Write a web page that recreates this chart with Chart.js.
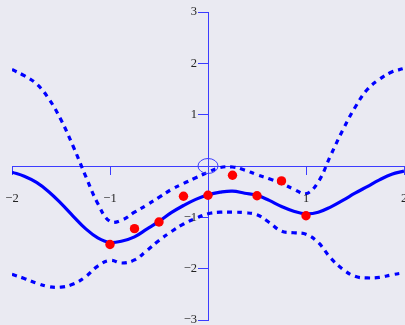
<!DOCTYPE html>
<html>
<head>
<meta charset="utf-8">
<script src="https://cdn.jsdelivr.net/npm/chart.js@4/dist/chart.umd.min.js"></script>
<style>
  html, body { margin: 0; padding: 0; background: #eaeaf2; }
  canvas { display: block; }
</style>
</head>
<body>
<canvas id="gp" width="405" height="325"></canvas>
<script>
// Sample positions along x for the fitted curve and its band
const gridX = [-2, -1.875, -1.75, -1.625, -1.5, -1.375, -1.25, -1.125, -1,
  -0.875, -0.75, -0.625, -0.5, -0.375, -0.25, -0.125, 0,
  0.125, 0.25, 0.375, 0.5, 0.625, 0.75, 0.875, 1,
  1.125, 1.25, 1.375, 1.5, 1.625, 1.75, 1.875, 2];

// Posterior mean
const meanY = [-0.12, -0.20, -0.32, -0.50, -0.73, -0.98, -1.22, -1.40, -1.49,
  -1.46, -1.38, -1.23, -1.08, -0.91, -0.77, -0.65, -0.56,
  -0.51, -0.49, -0.53, -0.57, -0.67, -0.79, -0.88, -0.93,
  -0.90, -0.80, -0.67, -0.53, -0.40, -0.27, -0.16, -0.10];

// Upper confidence bound
const upperY = [1.88, 1.76, 1.60, 1.31, 0.90, 0.38, -0.19, -0.73, -1.08,
  -1.05, -0.90, -0.76, -0.61, -0.46, -0.34, -0.23, -0.12,
  -0.03, -0.02, -0.08, -0.17, -0.25, -0.34, -0.45, -0.54,
  -0.31, 0.20, 0.70, 1.14, 1.49, 1.69, 1.83, 1.90];

// Lower confidence bound
const lowerY = [-2.11, -2.19, -2.28, -2.35, -2.36, -2.30, -2.16, -1.95, -1.84,
  -1.89, -1.83, -1.65, -1.45, -1.28, -1.13, -1.02, -0.93,
  -0.90, -0.90, -0.91, -0.95, -1.10, -1.27, -1.30, -1.33,
  -1.49, -1.79, -2.01, -2.15, -2.18, -2.17, -2.12, -2.08];

// Observations
const obsX = [-1, -0.75, -0.5, -0.25, 0, 0.25, 0.5, 0.75, 1];
const obsY = [-1.53, -1.22, -1.09, -0.59, -0.57, -0.18, -0.58, -0.29, -0.97];

// Axis ticks
const xTickValues = [-2, -1, 1, 2];
const xTickLabels = ['\u22122', '\u22121', '1', '2'];
const yTickValues = [3, 2, 1, -1, -2, -3];
const yTickLabels = ['3', '2', '1', '\u22121', '\u22122', '\u22123'];

// Ring marker at the origin
const originMarker = { x: 0, y: 0 };

const toPoints = (xs, ys) => xs.map((x, i) => ({ x: x, y: ys[i] }));

const axisColor = '#3c3cff';
const curveColor = '#0000ff';
const labelColor = '#222222';
const labelFont = '12.5px "Liberation Serif", "DejaVu Serif", serif';

const background = {
  id: 'background',
  beforeDraw(chart) {
    const ctx = chart.ctx;
    ctx.save();
    ctx.fillStyle = '#eaeaf2';
    ctx.fillRect(0, 0, chart.width, chart.height);
    ctx.restore();
  }
};

// Tick labels placed beside the crossing axes
const tickLabels = {
  id: 'tickLabels',
  afterDraw(chart) {
    const { ctx, scales } = chart;
    const x0 = scales.x.getPixelForValue(0);
    const y0 = scales.y.getPixelForValue(0);
    ctx.save();
    ctx.font = labelFont;
    ctx.fillStyle = labelColor;
    ctx.textAlign = 'center';
    ctx.textBaseline = 'alphabetic';
    xTickValues.forEach((v, i) => {
      ctx.fillText(xTickLabels[i], scales.x.getPixelForValue(v), y0 + 36);
    });
    ctx.textAlign = 'right';
    ctx.textBaseline = 'middle';
    yTickValues.forEach((v, i) => {
      ctx.fillText(yTickLabels[i], x0 - 11, scales.y.getPixelForValue(v));
    });
    ctx.restore();
  }
};

const originRing = {
  id: 'originRing',
  afterDatasetsDraw(chart) {
    const { ctx, scales } = chart;
    const cx = scales.x.getPixelForValue(originMarker.x);
    const cy = scales.y.getPixelForValue(originMarker.y);
    ctx.save();
    ctx.strokeStyle = axisColor;
    ctx.lineWidth = 1;
    ctx.beginPath();
    ctx.ellipse(cx, cy, 10, 7.5, 0, 0, Math.PI * 2);
    ctx.stroke();
    ctx.restore();
  }
};

const bandLine = (label, ys) => ({
  label: label,
  data: toPoints(gridX, ys),
  showLine: true,
  borderColor: curveColor,
  borderWidth: 3.2,
  borderDash: [5, 5],
  pointRadius: 0,
  tension: 0.4
});

new Chart(document.getElementById('gp'), {
  type: 'scatter',
  data: {
    datasets: [
      {
        label: 'observations',
        data: toPoints(obsX, obsY),
        showLine: false,
        pointRadius: 4.7,
        pointBackgroundColor: '#ff0000',
        pointBorderWidth: 0,
        pointBorderColor: '#ff0000'
      },
      {
        label: 'mean',
        data: toPoints(gridX, meanY),
        showLine: true,
        borderColor: curveColor,
        borderWidth: 3.2,
        pointRadius: 0,
        tension: 0.4
      },
      bandLine('upper', upperY),
      bandLine('lower', lowerY)
    ]
  },
  options: {
    responsive: false,
    animation: false,
    devicePixelRatio: 1,
    layout: { autoPadding: false, padding: { left: 12, right: 1, top: 12, bottom: 5 } },
    plugins: { legend: { display: false }, tooltip: { enabled: false } },
    scales: {
      x: {
        type: 'linear',
        position: 'center',
        min: -2,
        max: 2,
        afterBuildTicks: s => { s.ticks = xTickValues.map(v => ({ value: v })); },
        grid: { drawOnChartArea: false, tickLength: 8, color: axisColor, lineWidth: 1 },
        border: { display: true, color: axisColor, width: 1 },
        ticks: { display: false }
      },
      y: {
        type: 'linear',
        position: 'center',
        min: -3,
        max: 3,
        afterBuildTicks: s => { s.ticks = yTickValues.map(v => ({ value: v })); },
        grid: { drawOnChartArea: false, tickLength: 10, color: axisColor, lineWidth: 1 },
        border: { display: true, color: axisColor, width: 1 },
        ticks: { display: false }
      }
    }
  },
  plugins: [background, tickLabels, originRing]
});
</script>
</body>
</html>
